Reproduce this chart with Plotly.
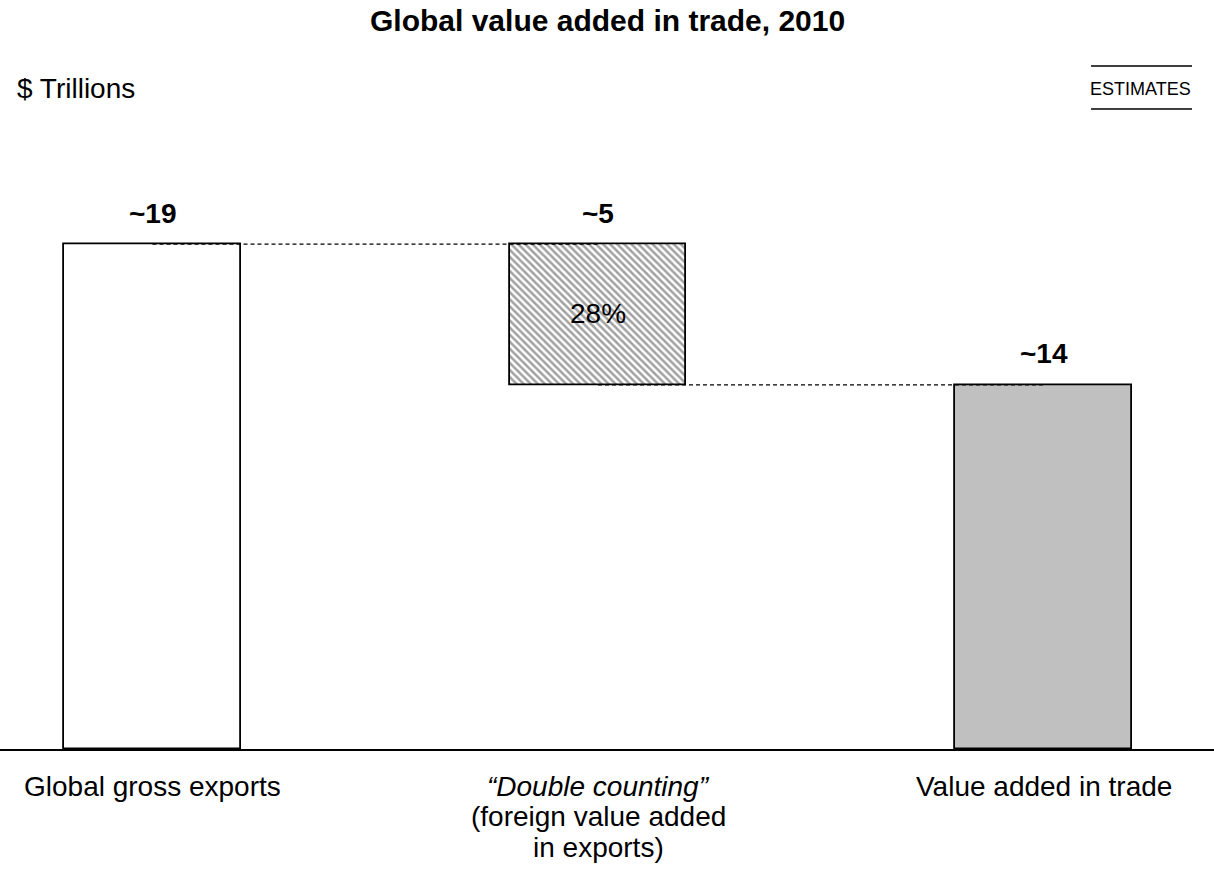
import plotly.graph_objects as go

# ---- data ----
categories = ["Global gross exports", "Double counting", "Value added in trade"]
category_lines = [["Global gross exports"],
                  ["<i>“Double counting”</i>", "(foreign value added", "in exports)"],
                  ["Value added in trade"]]
gross_exports = 19.0
double_counting = 5.3
value_added = 13.7
value_labels = ["~19", "~5", "~14"]
share_label = "28%"

FONT = "Liberation Sans, Arial, sans-serif"
W, H = 1214, 894
PLOT_TOP, PLOT_BOT = 164.3, 749

x = [0, 1, 2]
bases = [0, value_added, 0]
heights = [gross_exports, double_counting, value_added]

fig = go.Figure()
fig.add_trace(go.Bar(
    x=x, y=heights, base=bases, width=0.397,
    marker=dict(
        color=["white", "white", "#C0C0C0"],
        line=dict(color="black", width=1.8),
        pattern=dict(shape=["", "\\", ""], fgcolor="#B8B8B8", bgcolor="#F2F2F2",
                     size=5, solidity=0.5),
    ),
    hoverinfo="skip", showlegend=False,
))

# connectors (center to center)
for (x0, x1, lvl) in [(0, 1, gross_exports), (1, 2, value_added)]:
    fig.add_trace(go.Scatter(x=[x0, x1], y=[lvl, lvl], mode="lines",
                             line=dict(color="black", width=1.2, dash="4px,3px"),
                             hoverinfo="skip", showlegend=False))

def py(pix):
    return 1 - pix / H

annotations = []
label_tops = [gross_exports, gross_exports, value_added]
for i, (lab, top) in enumerate(zip(value_labels, label_tops)):
    annotations.append(dict(x=x[i], y=top, xref="x", yref="y", text=f"<b>{lab}</b>",
                            showarrow=False, yanchor="middle", yshift=31,
                            font=dict(family=FONT, size=28, color="black")))
annotations.append(dict(x=1, y=gross_exports, xref="x", yref="y",
                        text=share_label, showarrow=False, yanchor="middle", yshift=-69,
                        font=dict(family=FONT, size=28, color="black")))

# category labels below the axis
for i, lines in enumerate(category_lines):
    for j, ln in enumerate(lines):
        annotations.append(dict(x=x[i], y=py(786 + 30.5 * j), xref="x", yref="paper",
                                text=ln, showarrow=False, yanchor="middle",
                                font=dict(family=FONT, size=28, color="black")))

annotations.append(dict(x=0.5, y=py(20), xref="paper", yref="paper",
                        text="<b>Global value added in trade, 2010</b>", showarrow=False,
                        xanchor="center", yanchor="middle",
                        font=dict(family=FONT, size=30, color="black")))
annotations.append(dict(x=15 / W, y=py(88), xref="paper", yref="paper",
                        text="$ Trillions", showarrow=False,
                        xanchor="left", yanchor="middle",
                        font=dict(family=FONT, size=28, color="black")))
annotations.append(dict(x=1193 / W, y=py(89), xref="paper", yref="paper",
                        text="ESTIMATES", showarrow=False,
                        xanchor="right", yanchor="middle",
                        font=dict(family=FONT, size=18, color="black")))

shapes = [
    dict(type="line", xref="paper", yref="paper", x0=1091 / W, x1=1192 / W,
         y0=py(66), y1=py(66), line=dict(color="black", width=1.5)),
    dict(type="line", xref="paper", yref="paper", x0=1091 / W, x1=1192 / W,
         y0=py(109), y1=py(109), line=dict(color="black", width=1.5)),
]

fig.update_layout(
    width=W, height=H,
    margin=dict(l=0, r=0, t=0, b=0),
    paper_bgcolor="white", plot_bgcolor="white",
    annotations=annotations, shapes=shapes,
    bargap=0,
    xaxis=dict(range=[-0.3423, 2.3827], domain=[0, 1],
               showticklabels=False,
               showline=True, linecolor="black", linewidth=2,
               showgrid=False, zeroline=False, ticks="",
               fixedrange=True),
    yaxis=dict(range=[0, 22], domain=[(H - PLOT_BOT) / H, (H - PLOT_TOP) / H],
               visible=False, showgrid=False, zeroline=False, fixedrange=True),
)

fig.write_html("out.html", config={"displayModeBar": False},
               post_script="document.body.style.margin='0';document.body.style.overflow='hidden';")
